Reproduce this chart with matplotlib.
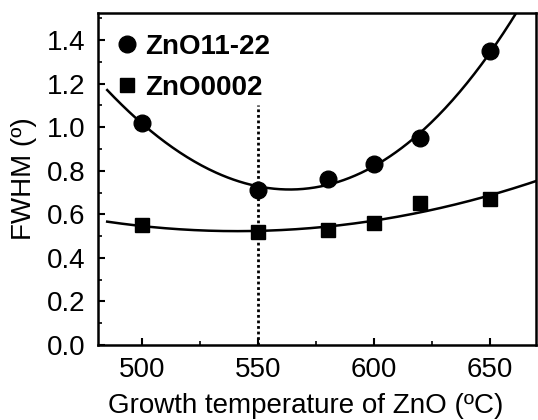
"""
FWHM of ZnO peaks vs growth temperature
"""

import numpy as np
import matplotlib
matplotlib.use('Agg')
import matplotlib.pyplot as plt
from matplotlib.ticker import MultipleLocator

###data
temps = [500, 550, 580, 600, 620, 650]
fwhm_1122 = [1.02, 0.71, 0.76, 0.83, 0.95, 1.35]
fwhm_0002 = [0.55, 0.52, 0.53, 0.56, 0.65, 0.67]
labels = ['ZnO11-22', 'ZnO0002']
xticks = [500, 550, 600, 650]
yticks = [0.0, 0.2, 0.4, 0.6, 0.8, 1.0, 1.2, 1.4]
mark_temp = 550

plt.rcParams['font.family'] = ['Liberation Sans', 'DejaVu Sans']

fig = plt.figure(figsize=(5.38, 4.2), dpi=100)
plot = fig.add_axes([0.182, 0.179, 0.815, 0.79])

##fits (polynomial through the measured points)
xfit = np.linspace(485, 672, 300)
fit1 = np.polyval(np.polyfit(temps, fwhm_1122, 3), xfit)
fit2 = np.polyval(np.polyfit(temps, fwhm_0002, 2), xfit)
plot.plot(xfit, fit1, color='black', lw=1.8)
plot.plot(xfit, fit2, color='black', lw=1.8)

plot.plot(temps, fwhm_1122, 'o', color='black', markersize=12, label=labels[0])
plot.plot(temps, fwhm_0002, 's', color='black', markersize=10, label=labels[1])

##dotted line at the optimum temperature
plot.plot([mark_temp, mark_temp], [0, 1.1], color='black', ls=(0, (1, 1)), lw=2)

plot.set_xlim(481, 670)
plot.set_ylim(0, 1.525)
plot.set_xticks(xticks)
plot.set_yticks(yticks)
plot.set_yticklabels(['%.1f' % y for y in yticks])
plot.xaxis.set_minor_locator(MultipleLocator(25))
plot.yaxis.set_minor_locator(MultipleLocator(0.1))
plot.tick_params(axis='both', which='major', direction='in', length=5, width=1.5,
                 labelsize=20, pad=9)
plot.tick_params(axis='both', which='minor', direction='in', length=3, width=1.2)

plot.set_xlabel('Growth temperature of ZnO (ºC)', fontsize=20)
plot.set_ylabel('FWHM (º)', fontsize=20)
plot.xaxis.set_label_coords(0.474, -0.144)
plot.yaxis.set_label_coords(-0.139, 0.5)

for spine in plot.spines.values():
    spine.set_linewidth(1.8)

plot.legend(loc='upper left', frameon=False, handlelength=0.6, handletextpad=0.35,
            borderaxespad=0.25, borderpad=0.5, labelspacing=0.55,
            prop={'weight': 'bold', 'size': 20})

plt.savefig('out.png', dpi=100)
